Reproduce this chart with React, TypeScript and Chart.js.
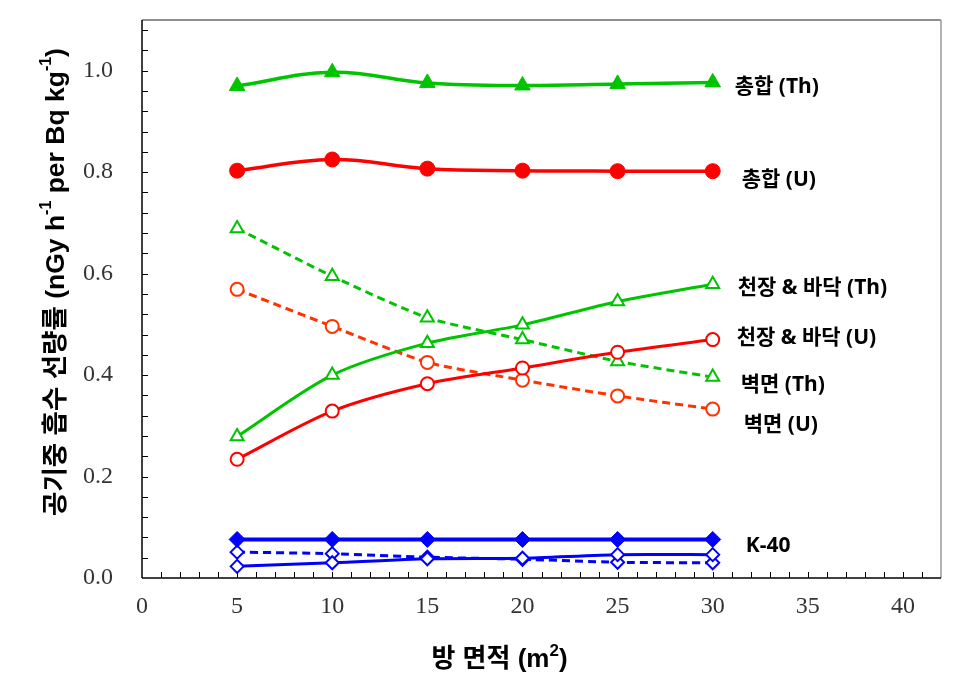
import React, { useEffect, useRef } from 'react';
import { Chart, registerables } from 'chart.js';

Chart.register(...registerables);

// ---- data ----
const areas = [5, 10, 15, 20, 25, 30];
const totalTh = [0.970, 0.997, 0.976, 0.971, 0.974, 0.977];
const totalU = [0.803, 0.825, 0.807, 0.803, 0.802, 0.802];
const ceilFloorTh = [0.279, 0.400, 0.463, 0.499, 0.545, 0.579];
const ceilFloorU = [0.234, 0.329, 0.383, 0.414, 0.445, 0.470];
const wallTh = [0.689, 0.595, 0.513, 0.470, 0.427, 0.396];
const wallU = [0.569, 0.496, 0.425, 0.390, 0.359, 0.333];
const totalK = [0.076, 0.076, 0.076, 0.076, 0.076, 0.076];
const ceilFloorK = [0.023, 0.030, 0.038, 0.039, 0.046, 0.046];
const wallK = [0.051, 0.048, 0.041, 0.037, 0.031, 0.030];

const xTickValues = [0, 5, 10, 15, 20, 25, 30, 35, 40];
const yTickValues = [0, 0.2, 0.4, 0.6, 0.8, 1.0];
const xMax = 42;
const yMax = 1.1;
const xMinorStep = 1;
const yMinorStep = 0.04;

const seriesLabels = ['총합 (Th)', '총합 (U)', '천장 & 바닥 (Th)', '천장 & 바닥 (U)', '벽면 (Th)', '벽면 (U)', 'K-40'];
const labelLevels = [0.968, 0.785, 0.572, 0.473, 0.380, 0.301, 0.064];
const labelAnchorX = 30;

const yTitleParts: [string, boolean][] = [['공기중 흡수 선량률 (nGy h', false], ['-1', true], [' per Bq kg', false], ['-1', true], [')', false]];
const xTitleParts: [string, boolean][] = [['방 면적 (m', false], ['2', true], [')', false]];

// ---- styles ----
const GREEN = '#00c400';
const RED = '#ff0000';
const ORANGE = '#ff3300';
const BLUE = '#0000ff';
const labelOffsets = [22, 29, 25, 24, 28, 31, 33];
const KFONT = "'Liberation Sans', 'Noto Sans CJK KR', sans-serif";
const LFONT = "'Noto Sans', 'Noto Sans CJK KR', sans-serif";

function drawParts(ctx: CanvasRenderingContext2D, parts: [string, boolean][], size: number, supSize: number, rise: number) {
  const fontN = `bold ${size}px ${KFONT}`;
  const fontS = `bold ${supSize}px ${KFONT}`;
  let total = 0;
  const widths = parts.map(([t, s]) => {
    ctx.font = s ? fontS : fontN;
    const w = ctx.measureText(t).width;
    total += w;
    return w;
  });
  let x = -total / 2;
  ctx.textAlign = 'left';
  ctx.textBaseline = 'middle';
  parts.forEach(([t, s], i) => {
    ctx.font = s ? fontS : fontN;
    ctx.fillText(t, x, s ? -rise : 0);
    x += widths[i];
  });
}

const overlay = {
  id: 'overlay',
  afterDraw(chart: any) {
    const { ctx, chartArea: a, scales } = chart;
    const xs = scales.x;
    const ys = scales.y;
    const line = (x1: number, y1: number, x2: number, y2: number) => {
      ctx.beginPath();
      ctx.moveTo(x1, y1);
      ctx.lineTo(x2, y2);
      ctx.stroke();
    };
    ctx.save();
    // frame
    ctx.lineWidth = 1.5;
    ctx.strokeStyle = '#6a6a6a';
    line(a.left, a.top, a.right, a.top);
    ctx.strokeStyle = '#9a9a9a';
    line(a.right, a.top, a.right, a.bottom);
    ctx.strokeStyle = '#000';
    line(a.left, a.top, a.left, a.bottom);
    line(a.left, a.bottom, a.right, a.bottom);
    // inward ticks
    ctx.lineWidth = 1;
    for (let v = xMinorStep; v < xMax - 1e-9; v += xMinorStep) {
      const px = Math.round(xs.getPixelForValue(v)) + 0.5;
      line(px, a.bottom, px, a.bottom - 6);
    }
    for (let i = 1; i * yMinorStep < yMax - 1e-9; i++) {
      const py = Math.round(ys.getPixelForValue(i * yMinorStep)) + 0.5;
      line(a.left, py, a.left + 6, py);
    }
    // series labels
    ctx.fillStyle = '#000';
    ctx.font = `bold 21px ${LFONT}`;
    ctx.textAlign = 'left';
    ctx.textBaseline = 'middle';
    seriesLabels.forEach((t, i) => {
      ctx.fillText(t, xs.getPixelForValue(labelAnchorX) + labelOffsets[i], ys.getPixelForValue(labelLevels[i]));
    });
    // y title
    ctx.save();
    ctx.translate(57, (a.top + a.bottom) / 2 - 17);
    ctx.rotate(-Math.PI / 2);
    drawParts(ctx, yTitleParts, 26.5, 16, 10);
    ctx.restore();
    // x title
    ctx.save();
    ctx.translate((a.left + a.right) / 2 - 42, 660);
    drawParts(ctx, xTitleParts, 26, 17, 9);
    ctx.restore();
    ctx.restore();
  },
};

function mk(label: string, data: number[], color: string, style: string, filled: boolean, radius: number, width: number, dashed: boolean, tension: number) {
  return {
    label,
    data: areas.map((x, i) => ({ x, y: data[i] })),
    borderColor: color,
    backgroundColor: color,
    borderWidth: width,
    borderDash: dashed ? [8, 5] : [],
    tension,
    pointStyle: style,
    pointRadius: radius,
    pointBackgroundColor: filled ? color : '#ffffff',
    pointBorderColor: color,
    pointBorderWidth: filled ? 1 : 2,
    clip: false as any,
  };
}

export default function App() {
  const ref = useRef<HTMLCanvasElement | null>(null);
  useEffect(() => {
    document.body.style.margin = '0';
    const canvas = ref.current!;
    const chart = new Chart(canvas, {
      type: 'line',
      data: {
        datasets: [
          mk(seriesLabels[0], totalTh, GREEN, 'triangle', true, 9, 3.5, false, 0.4),
          mk(seriesLabels[1], totalU, RED, 'circle', true, 7.5, 3.5, false, 0.4),
          mk(seriesLabels[2], ceilFloorTh, GREEN, 'triangle', false, 7.5, 3, false, 0.3),
          mk(seriesLabels[3], ceilFloorU, RED, 'circle', false, 6.5, 3, false, 0.3),
          mk(seriesLabels[4], wallTh, GREEN, 'triangle', false, 7.5, 3, true, 0.2),
          mk(seriesLabels[5], wallU, ORANGE, 'circle', false, 6.5, 3, true, 0.2),
          mk('K-40 총합', totalK, BLUE, 'rectRot', true, 8, 4, false, 0),
          mk('K-40 천장 & 바닥', ceilFloorK, BLUE, 'rectRot', false, 6.5, 3, false, 0.2),
          mk('K-40 벽면', wallK, BLUE, 'rectRot', false, 6.5, 3, true, 0.2),
        ] as any,
      },
      options: {
        animation: false,
        responsive: false,
        devicePixelRatio: 1,
        layout: { padding: { top: 20, right: 23, left: 0, bottom: 0 } },
        plugins: { legend: { display: false }, tooltip: { enabled: false }, title: { display: false } },
        scales: {
          x: {
            type: 'linear',
            min: 0,
            max: xMax,
            grid: { display: false, drawTicks: false },
            border: { display: false },
            afterBuildTicks: (s: any) => { s.ticks = xTickValues.map((v) => ({ value: v })); },
            afterFit: (s: any) => { s.height = 100; s.paddingLeft = 0; s.paddingRight = 0; },
            ticks: {
              padding: 14,
              maxRotation: 0,
              autoSkip: false,
              color: '#333',
              font: { family: "'Liberation Serif', serif", size: 24 },
              callback: (v: any) => String(v),
            },
          },
          y: {
            type: 'linear',
            min: 0,
            max: yMax,
            grid: { display: false, drawTicks: false },
            border: { display: false },
            afterBuildTicks: (s: any) => { s.ticks = yTickValues.map((v) => ({ value: v })); },
            afterFit: (s: any) => { s.width = 142; s.paddingTop = 0; s.paddingBottom = 0; },
            ticks: {
              padding: 29,
              autoSkip: false,
              color: '#333',
              font: { family: "'Liberation Serif', serif", size: 24 },
              callback: (v: any) => Number(v).toFixed(1),
            },
          },
        },
      } as any,
      plugins: [overlay],
    });
    return () => chart.destroy();
  }, []);
  return (
    <div style={{ width: 964, height: 678, background: '#fff' }}>
      <canvas ref={ref} width={964} height={678} style={{ display: 'block' }} />
    </div>
  );
}
